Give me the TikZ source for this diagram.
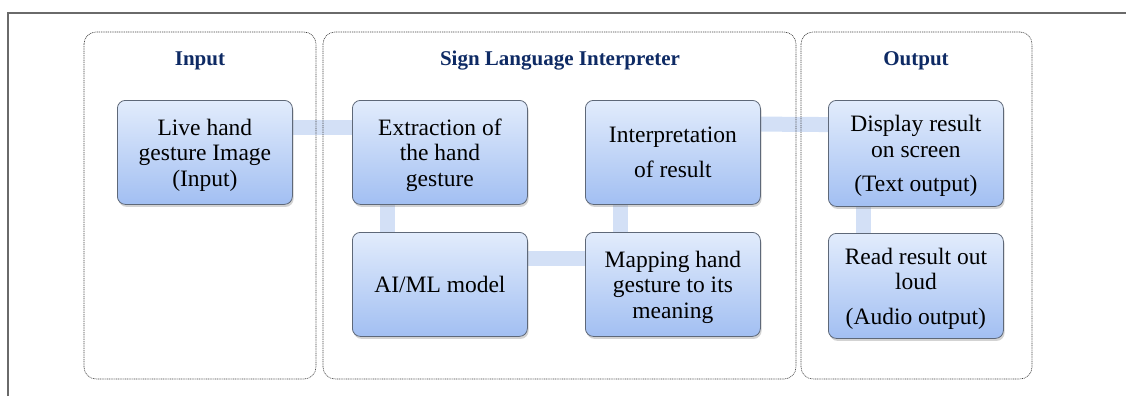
\documentclass[tikz,border=0pt]{standalone}
\usepackage{fontspec}
\setmainfont{Liberation Serif}
\usetikzlibrary{shadows,backgrounds,calc}
\definecolor{navy}{HTML}{0E2A64}
\definecolor{boxtop}{HTML}{E2ECFC}
\definecolor{boxbot}{HTML}{A2BFF2}
\definecolor{boxline}{HTML}{5E6878}
\definecolor{barcol}{HTML}{D3E0F6}
\definecolor{framecol}{HTML}{6A6A6A}
\begin{document}
\begin{tikzpicture}[x=1pt,y=-1pt,
  procbox/.style={draw=boxline, line width=0.8pt, rounded corners=8pt,
    top color=boxtop, bottom color=boxbot, minimum width=175pt,
    minimum height=104pt, align=center, anchor=north west, inner sep=0pt,
    text depth=0pt, font=\fontsize{23.5}{25.5}\selectfont,
    drop shadow={shadow xshift=1.2pt, shadow yshift=-2.5pt, opacity=0.35}},
  container/.style={draw=black!75, line width=0.6pt, rounded corners=12pt,
    dash pattern=on 1pt off 0.8pt},
  grouptitle/.style={text=navy, font=\bfseries\fontsize{21}{24}\selectfont},
  bar/.style={draw=barcol, line width=15pt},
  frameline/.style={draw=framecol, line width=1.3pt}
]
\useasboundingbox (0,0) rectangle (1126,396);
\draw[frameline] (8,396) -- (8,13) -- (1126,13);

\draw[container] (84,32) rectangle (316,379);
\draw[container] (323,32) rectangle (796,379);
\draw[container] (801,32) rectangle (1032,379);

\node[grouptitle] (tin) at (200,61) {Input};
\node[grouptitle] (tsli) at (560,61) {Sign Language Interpreter};
\node[grouptitle] (tout) at (916,61) {Output};

\node[procbox] (live) at (117,100) {Live hand\\gesture Image\\(Input)};
\node[procbox] (extr) at (352,100) {Extraction of\\the hand\\gesture};
\node[procbox] (interp) at (585,100) {Interpretation\\[9pt]of result};
\node[procbox] (aiml) at (352,232) {AI/ML model};
\node[procbox] (map) at (585,232) {Mapping hand\\gesture to its\\meaning};
\node[procbox, minimum height=106pt] (disp) at (828,100) {Display result\\on screen\\[9pt](Text output)};
\node[procbox, minimum height=105pt] (read) at (828,233) {Read result out\\loud\\[9pt](Audio output)};

\begin{scope}[on background layer]
\draw[bar] ($(live.north east)!0.26!(live.south east)$) -- ($(extr.north west)!0.26!(extr.south west)$);
\draw[bar] ($(extr.south west)!0.2!(extr.south east)$) -- ($(aiml.north west)!0.2!(aiml.north east)$);
\draw[bar] ($(aiml.north east)!0.25!(aiml.south east)$) -- ($(map.north west)!0.25!(map.south west)$);
\draw[bar] ($(map.north west)!0.2!(map.north east)$) -- ($(interp.south west)!0.2!(interp.south east)$);
\draw[bar] ($(interp.north east)!0.23!(interp.south east)$) -- ($(disp.north west)!0.23!(disp.south west)$);
\draw[bar] ($(disp.south west)!0.2!(disp.south east)$) -- ($(read.north west)!0.2!(read.north east)$);
\end{scope}
\end{tikzpicture}
\end{document}
